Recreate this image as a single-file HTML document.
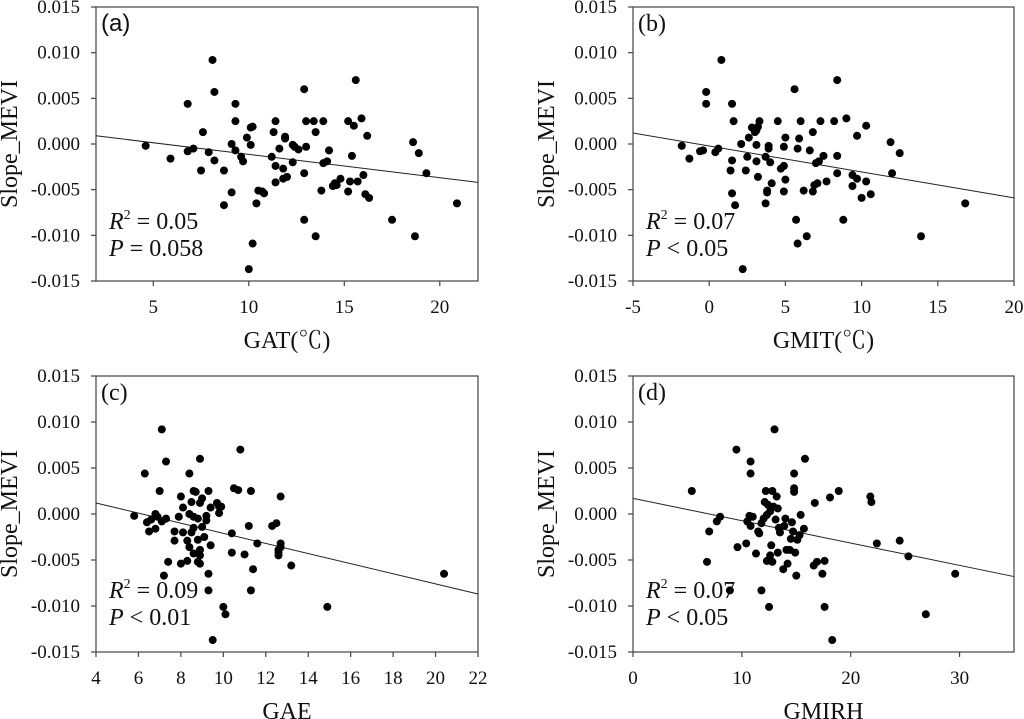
<!DOCTYPE html>
<html><head><meta charset="utf-8">
<style>
html,body{margin:0;padding:0;background:#fff;}
svg{display:block;font-family:"Liberation Serif","Times New Roman",serif;}
svg text{font-family:"Liberation Serif","Times New Roman",serif;fill:#111;}
</style></head>
<body>
<svg id="chart" width="1024" height="719" font-family="Liberation Serif, serif"></svg>
<script>
// Panel (a) GAT
const aX=[4.6,5.9,6.8,6.8,7.1,7.6,7.5,7.9,8.1,8.2,8.2,8.7,8.7,9.1,9.1,9.3,9.3,9.3,9.6,9.7,9.9,10.0,10.1,10.2,10.1,10.2,10.4,10.5,10.7,10.8,11.2,11.3,11.4,11.4,11.4,11.6,11.8,11.8,11.9,11.9,12.0,12.3,12.3,12.4,12.6,12.9,12.9,12.9,13.0,13.0,13.4,13.5,13.5,13.8,13.9,13.9,14.1,14.2,14.4,14.5,14.6,14.8,15.2,15.2,15.3,15.4,15.5,15.6,15.7,15.9,16.0,16.1,16.2,16.3,17.5,18.6,18.7,18.9,19.3,20.9];
const aY=[-0.0002,-0.0016,0.0044,-0.0008,-0.0005,0.0013,-0.0029,-0.0009,0.0092,0.0057,-0.0018,-0.0029,-0.0067,0.0000,-0.0053,0.0044,0.0025,-0.0007,-0.0014,-0.0019,0.0007,-0.0137,0.0018,0.0019,-0.0001,-0.0109,-0.0065,-0.0051,-0.0052,-0.0054,-0.0014,0.0013,0.0025,-0.0024,-0.0042,-0.0005,-0.0038,-0.0027,0.0008,0.0006,-0.0036,-0.0001,-0.0020,-0.0003,-0.0006,0.0060,-0.0083,-0.0032,-0.0003,0.0025,0.0025,0.0013,-0.0101,-0.0051,0.0025,-0.0021,-0.0019,-0.0007,-0.0046,-0.0043,-0.0045,-0.0038,0.0025,-0.0052,-0.0041,-0.0013,0.0020,0.0070,-0.0041,0.0028,-0.0034,-0.0055,0.0009,-0.0059,-0.0083,0.0002,-0.0101,-0.0010,-0.0032,-0.0065];
// Panel (b) GMIT
const bX=[-1.8,-1.3,-0.2,-0.2,-0.6,-0.4,0.4,0.6,0.8,1.5,1.6,1.5,1.4,1.5,1.7,2.1,2.2,2.5,2.4,2.6,2.8,3.0,3.1,3.2,3.3,3.1,3.1,3.2,3.7,3.7,3.8,3.8,3.9,3.9,4.0,4.1,4.5,4.7,4.9,5.0,4.9,5.0,4.9,5.6,5.7,5.8,5.8,5.9,6.0,6.2,6.4,6.6,6.8,6.8,6.9,7.0,7.1,7.2,7.3,7.5,7.7,8.2,8.4,8.4,8.4,8.8,9.0,9.4,9.4,9.7,9.7,10.0,10.3,10.3,10.6,11.9,12.0,12.5,13.9,16.8];
const bY=[-0.0002,-0.0016,0.0057,0.0044,-0.0008,-0.0007,-0.0009,-0.0005,0.0092,0.0044,0.0025,-0.0018,-0.0029,-0.0054,-0.0067,0.0000,-0.0137,-0.0014,-0.0029,0.0007,0.0018,0.0013,0.0015,0.0019,0.0025,-0.0001,-0.0019,-0.0036,-0.0014,-0.0065,-0.0053,-0.0051,-0.0002,-0.0005,-0.0020,-0.0043,0.0025,-0.0027,-0.0024,0.0007,-0.0003,-0.0039,-0.0052,0.0060,-0.0083,-0.0109,-0.0005,0.0006,0.0025,-0.0051,-0.0101,-0.0007,0.0013,-0.0052,-0.0045,-0.0021,-0.0043,-0.0019,0.0025,-0.0013,-0.0041,0.0025,0.0070,-0.0013,-0.0032,-0.0083,0.0028,-0.0046,-0.0034,-0.0038,0.0009,-0.0059,0.0020,-0.0041,-0.0055,0.0002,-0.0032,-0.0010,-0.0101,-0.0065];
// Panel (c) GAE
const cX=[5.8,6.3,6.4,6.5,6.6,6.8,6.8,6.9,7.0,7.1,7.1,7.2,7.3,7.3,7.4,7.7,7.7,7.9,8.0,8.0,8.1,8.1,8.3,8.3,8.4,8.4,8.4,8.5,8.5,8.6,8.6,8.6,8.6,8.7,8.8,8.8,8.8,8.9,8.9,8.9,8.9,8.9,9.0,9.0,9.1,9.2,9.2,9.3,9.3,9.3,9.4,9.4,9.5,9.7,9.8,9.8,9.9,10.0,10.1,10.4,10.4,10.5,10.7,10.8,11.0,11.2,11.3,11.3,11.4,11.6,12.3,12.5,12.6,12.6,12.6,12.7,12.7,12.7,13.2,14.9,20.4];
const cY=[-0.0002,0.0044,-0.0009,-0.0019,-0.0006,-0.0016,0.0000,-0.0003,0.0025,0.0092,-0.0008,-0.0067,0.0057,-0.0005,-0.0052,-0.0019,-0.0029,-0.0003,-0.0054,0.0019,0.0007,-0.0020,-0.0051,-0.0029,0.0000,-0.0036,0.0044,0.0013,-0.0020,0.0025,-0.0015,-0.0003,-0.0043,0.0024,-0.0028,-0.0005,-0.0052,0.0012,0.0060,-0.0039,-0.0054,-0.0045,0.0017,-0.0014,-0.0025,-0.0002,-0.0007,0.0025,-0.0065,-0.0083,-0.0034,0.0007,-0.0137,0.0012,0.0001,0.0008,0.0008,-0.0101,-0.0109,-0.0021,-0.0042,0.0028,0.0026,0.0070,-0.0044,-0.0013,0.0025,-0.0083,-0.0060,-0.0032,-0.0013,-0.0010,-0.0042,-0.0039,-0.0045,-0.0036,0.0019,-0.0032,-0.0056,-0.0101,-0.0065];
// Panel (d) GMIRH
const dX=[5.4,6.8,7.0,7.7,8.0,8.9,9.5,9.6,10.4,10.5,10.7,10.8,10.8,10.8,11.0,11.3,11.5,11.6,11.8,11.8,12.0,12.1,12.2,12.3,12.3,12.4,12.5,12.6,12.6,12.7,12.8,12.8,12.9,13.0,13.1,13.2,13.3,13.3,13.4,13.5,13.8,13.9,14.0,14.1,14.2,14.4,14.5,14.6,14.7,14.8,14.8,14.8,14.9,15.0,15.1,15.3,15.4,15.7,15.8,16.7,16.6,16.9,17.4,17.6,17.6,18.1,18.3,18.9,21.8,21.9,22.4,24.5,25.3,26.9,29.6];
const dY=[0.0025,-0.0052,-0.0019,-0.0008,-0.0003,-0.0083,0.0070,-0.0036,-0.0032,-0.0008,-0.0002,-0.0013,0.0044,0.0057,-0.0003,-0.0043,-0.0019,-0.0021,-0.0083,-0.0010,-0.0005,0.0013,0.0025,-0.0051,-0.0001,0.0010,-0.0101,-0.0045,0.0003,-0.0034,-0.0052,0.0025,0.0008,0.0092,-0.0006,0.0019,-0.0042,0.0006,-0.0015,-0.0020,-0.0060,-0.0013,-0.0005,-0.0039,-0.0054,-0.0039,-0.0027,-0.0009,-0.0019,0.0028,0.0044,0.0024,-0.0042,-0.0067,-0.0028,-0.0023,-0.0001,-0.0016,0.0060,0.0012,-0.0056,-0.0052,-0.0065,-0.0051,-0.0101,0.0018,-0.0137,0.0025,0.0019,0.0013,-0.0032,-0.0029,-0.0046,-0.0109,-0.0065];
// regression line endpoints (at x-domain min and max)
const lineStart=[0.0009,0.0012,0.0012,0.0017];
const lineEnd=[-0.0042,-0.0059,-0.0087,-0.0068];
const xTicksA=[5,10,15,20];
const xTicksB=[-5,0,5,10,15,20];
const xTicksC=[4,6,8,10,12,14,16,18,20,22];
const xTicksD=[0,10,20,30];
const yTicks=[0.015,0.010,0.005,0.000,-0.005,-0.010,-0.015];
const xTitles=["GAT(℃)","GMIT(℃)","GAE","GMIRH"];
const panelLabels=["(a)","(b)","(c)","(d)"];
const r2Vals=["0.05","0.07","0.09","0.07"];
const pTexts=["= 0.058","< 0.05","< 0.01","< 0.05"];

const NS="http://www.w3.org/2000/svg";
const svg=document.getElementById('chart');
const SERIF='"Liberation Serif", "Noto Serif CJK SC", serif';
function mk(tag,attrs,parent){const e=document.createElementNS(NS,tag);for(const k in attrs)e.setAttribute(k,attrs[k]);(parent||svg).appendChild(e);return e;}
function tx(attrs,parent){const e=mk('text',attrs,parent);e.style.fontFamily=SERIF;return e;}

const panels=[
 {xs:aX,ys:aY,dom:[2,22],ticks:xTicksA,L:96,R:478,T:7,B:281,id:'a'},
 {xs:bX,ys:bY,dom:[-5,20],ticks:xTicksB,L:633,R:1014,T:7,B:281,id:'b'},
 {xs:cX,ys:cY,dom:[4,22],ticks:xTicksC,L:96,R:478,T:376,B:652,id:'c'},
 {xs:dX,ys:dY,dom:[0,35],ticks:xTicksD,L:633,R:1014,T:376,B:652,id:'d'}
];
panels.forEach((p,i)=>{
 const g=mk('g',{});
 
 
 const sx=v=>p.L+(v-p.dom[0])/(p.dom[1]-p.dom[0])*(p.R-p.L);
 const sy=v=>p.B-(v+0.015)/0.03*(p.B-p.T);
 const frame=mk('rect',{x:p.L,y:p.T,width:p.R-p.L,height:p.B-p.T,fill:'none',stroke:'#444','stroke-width':1.2},g);
 
 
 yTicks.forEach(t=>{
  const y=sy(t);
  mk('line',{x1:p.L-5,x2:p.L,y1:y,y2:y,stroke:'#444','stroke-width':1.2},g);
  const e=tx({x:p.L-16,y:y+6,'text-anchor':'end','font-size':19},g);
  e.textContent=t.toFixed(3);
  
  
 });
 p.ticks.forEach(t=>{
  const x=sx(t);
  mk('line',{x1:x,x2:x,y1:p.B,y2:p.B+5,stroke:'#444','stroke-width':1.2},g);
  const e=tx({x:x,y:p.B+32,'text-anchor':'middle','font-size':19},g);
  e.textContent=t;
  
  
 });
 const ln=mk('line',{x1:sx(p.dom[0]),y1:sy(lineStart[i]),x2:sx(p.dom[1]),y2:sy(lineEnd[i]),stroke:'#222','stroke-width':1},g);
 
 
 p.xs.forEach((xv,j)=>{
  const c=mk('circle',{cx:sx(xv),cy:sy(p.ys[j]),r:4,fill:'#000'},g);
  
  
 });
 const yt=tx({x:0,y:0,'text-anchor':'middle','font-size':24,transform:`translate(${p.L-79},${(p.T+p.B)/2}) rotate(-90)`},g);
 yt.textContent='Slope_MEVI';
 
 
 const xt=tx({x:(p.L+p.R)/2,y:p.B+67,'text-anchor':'middle','font-size':24},g);
 xt.textContent=xTitles[i];
 
 
 const pl=tx({x:p.L+5,y:p.T+24,'font-size':24},g);
 if(i===0) pl.style.fontFamily='"Liberation Sans", sans-serif';
 pl.textContent=panelLabels[i];
 
 
 const r=tx({x:p.L+13,y:p.T+222,'font-size':24},g);
 r.innerHTML='<tspan font-style="italic">R</tspan><tspan font-size="14" dy="-10">2</tspan><tspan dy="10"> = '+r2Vals[i]+'</tspan>';
 
 
 const pt=tx({x:p.L+13,y:p.T+249,'font-size':24},g);
 pt.innerHTML='<tspan font-style="italic">P</tspan> '+pTexts[i];
 
 
});
</script>
</body></html>
